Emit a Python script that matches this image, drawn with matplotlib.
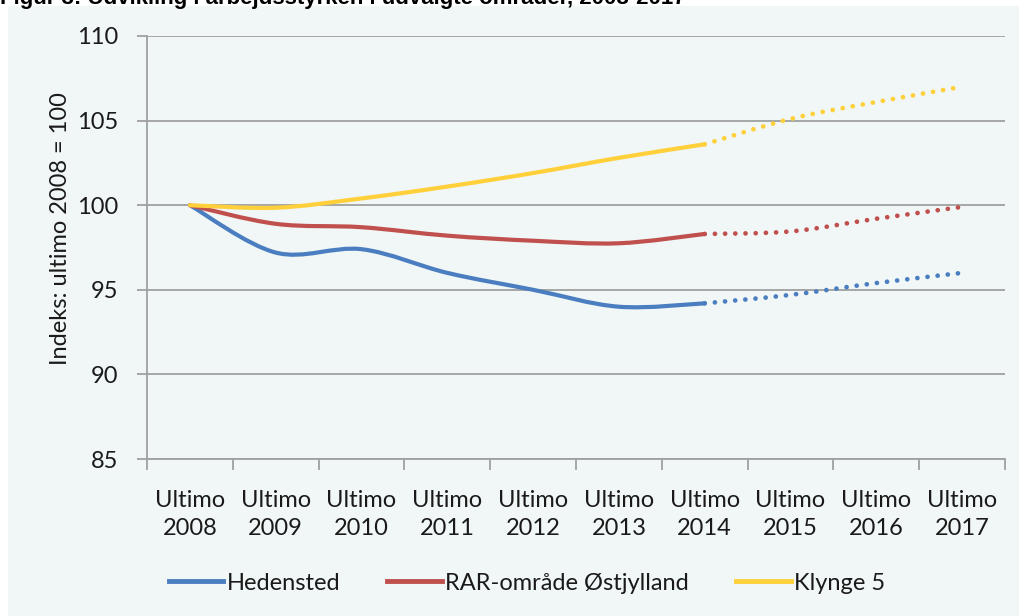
import matplotlib.pyplot as plt
import numpy as np
from matplotlib.path import Path
from matplotlib.patches import PathPatch, Rectangle
from matplotlib.lines import Line2D

plt.rcParams['font.family'] = ['Lato', 'DejaVu Sans']

years = ['2008', '2009', '2010', '2011', '2012', '2013', '2014', '2015', '2016', '2017']
labels = ['Ultimo\n' + y for y in years]
hedensted = [100.0, 97.2, 97.4, 96.0, 95.0, 94.0, 94.2, 94.7, 95.4, 96.0]
rar = [100.0, 98.9, 98.7, 98.2, 97.9, 97.75, 98.3, 98.45, 99.2, 99.9]
klynge = [100.0, 99.85, 100.4, 101.1, 101.9, 102.8, 103.6, 105.1, 106.1, 107.0]
names = ['Hedensted', 'RAR-område Østjylland', 'Klynge 5']
colors = ['#4A7EC0', '#C0504D', '#FFD03A']
last_actual = 6  # index of Ultimo 2014, prognose after this

def smooth_path(x, y):
    # Excel-like smoothed line: Catmull-Rom as cubic Bezier
    p = np.column_stack([x, y])
    n = len(p)
    verts = [p[0]]
    codes = [Path.MOVETO]
    for i in range(n - 1):
        p0 = p[i - 1] if i > 0 else p[i]
        p3 = p[i + 2] if i + 2 < n else p[i + 1]
        c1 = p[i] + (p[i + 1] - p0) / 6
        c2 = p[i + 1] - (p3 - p[i]) / 6
        verts += [c1, c2, p[i + 1]]
        codes += [Path.CURVE4] * 3
    return Path(verts, codes)

fig = plt.figure(figsize=(10.19, 6.16), dpi=100)
fig.patch.set_facecolor('white')
fig.patches.append(Rectangle((8 / 1019, 0), 1, 1 - 6 / 616, transform=fig.transFigure,
                             facecolor='#F1F6F6', edgecolor='none', zorder=-10))
# title is cut off at the top edge in the original picture
fig.text(0.0, 1 - 4 / 616, 'Figur 3: Udvikling i arbejdsstyrken i udvalgte områder, 2008-2017',
         fontsize=16, fontweight='bold', family='Liberation Sans', va='baseline', ha='left')

ax = fig.add_axes([147 / 1019, 1 - 459 / 616, (1005 - 147) / 1019, (459 - 36) / 616])
ax.set_facecolor('none')

xs = np.arange(len(years))
for vals, col in zip([hedensted, rar, klynge], colors):
    v = np.array(vals)
    solid = smooth_path(xs[:last_actual + 1], v[:last_actual + 1])
    ax.add_patch(PathPatch(solid, fill=False, edgecolor=col, lw=3.0,
                           capstyle='round', joinstyle='round', zorder=3))
    dotted = smooth_path(xs[last_actual:], v[last_actual:])
    ax.add_patch(PathPatch(dotted, fill=False, edgecolor=col, lw=3.4,
                           linestyle=(0, (0.01, 2.15)), capstyle='round', zorder=3))

ax.set_xlim(-0.5, len(years) - 0.5)
ax.set_ylim(85, 110)
ax.set_yticks(np.arange(85, 111, 5))
ax.yaxis.grid(True, color='#A0A0A0', lw=1.3)
ax.set_axisbelow(True)

ax.set_xticks(np.arange(-0.5, len(years)), labels=[])
ax.set_xticks(xs, minor=True)
ax.set_xticklabels(labels, minor=True, fontsize=17, color='#1A1A1A', linespacing=1.45)
ax.tick_params(axis='x', which='minor', length=0, pad=22)
ax.tick_params(axis='x', which='major', length=8, width=1.3, color='#A0A0A0')
ax.tick_params(axis='y', length=7, width=1.3, color='#A0A0A0', labelsize=17,
               labelcolor='#1A1A1A', pad=14)

for s in ['top', 'right']:
    ax.spines[s].set_visible(False)
for s in ['left', 'bottom']:
    ax.spines[s].set_color('#A0A0A0')
    ax.spines[s].set_linewidth(1.3)

ax.set_ylabel('Indeks: ultimo 2008 = 100', fontsize=17, color='#1A1A1A',
              va='center', ha='center')
ax.yaxis.set_label_coords(-0.101, 0.544)

handles = [Line2D([], [], color=c, lw=3.5) for c in colors]
fig.legend(handles, names, loc='center', bbox_to_anchor=(527 / 1019, 1 - 583 / 616),
           ncol=3, frameon=False, fontsize=17, handlelength=2.3, handletextpad=0.15,
           columnspacing=2.0, labelcolor='#1A1A1A')

fig.savefig('out.png', dpi=100)
